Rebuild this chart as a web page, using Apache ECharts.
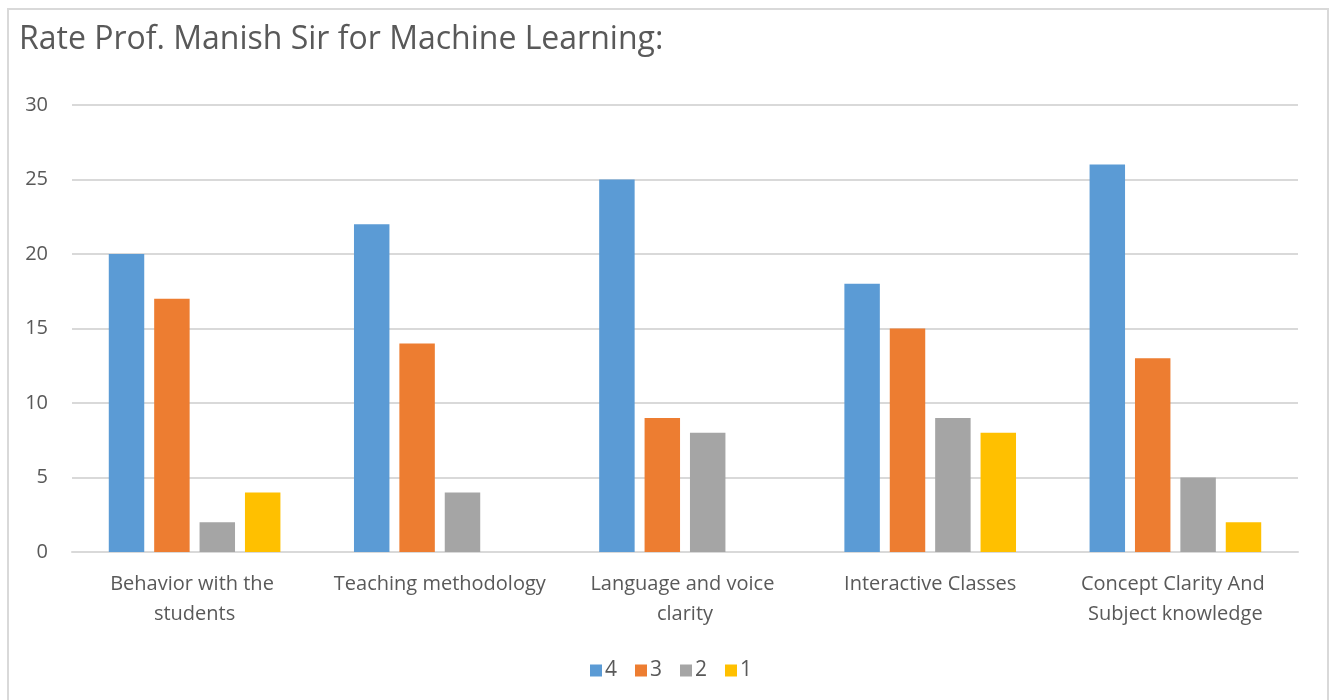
<!DOCTYPE html>
<html>
<head>
<meta charset="utf-8">
<script src="https://cdn.jsdelivr.net/npm/echarts@6/dist/echarts.min.js"></script>
<style>
  html, body { margin: 0; padding: 0; background: #fff; }
  #chart { width: 1332px; height: 700px; }
</style>
</head>
<body>
<div id="chart"></div>
<script>
// 类目与各评分人数
const categories = [
  'Behavior with the students',
  'Teaching methodology',
  'Language and voice clarity',
  'Interactive Classes',
  'Concept Clarity And Subject knowledge'
]
const seriesNames = ['4', '3', '2', '1']
const rating4 = [20, 22, 25, 18, 26]
const rating3 = [17, 14, 9, 15, 13]
const rating2 = [2, 4, 8, 9, 5]
const rating1 = [4, 0, 0, 8, 2]
const yTicks = [0, 5, 10, 15, 20, 25, 30]

const colors = ['#5b9bd5', '#ed7d31', '#a5a5a5', '#ffc000']
const textColor = '#595959'
const fontFamily = '"Open Sans", sans-serif'

const chart = echarts.init(document.getElementById('chart'))

const option = {
  animation: false,
  color: colors,
  title: {
    text: 'Rate Prof. Manish Sir for Machine Learning:',
    left: 14,
    top: 19,
    textStyle: { fontFamily, fontSize: 32, fontWeight: 'normal', color: textColor }
  },
  // 外框
  graphic: [{
    type: 'rect',
    shape: { x: 8, y: 9, width: 1320, height: 720 },
    style: { fill: 'none', stroke: '#d9d9d9', lineWidth: 2 },
    silent: true
  }],
  grid: { left: 72, right: 34, top: 105, bottom: 148 },
  legend: {
    data: seriesNames,
    left: 585,
    top: 655,
    itemWidth: 12,
    itemHeight: 12,
    itemGap: 18,
    icon: 'rect',
    textStyle: { fontFamily, fontSize: 21, color: textColor, padding: [0, 0, 0, -2] }
  },
  xAxis: {
    type: 'category',
    data: categories,
    axisTick: { show: false },
    axisLine: { lineStyle: { color: '#d9d9d9', width: 2 } },
    axisLabel: {
      fontFamily, fontSize: 20, color: textColor,
      margin: 17, lineHeight: 30,
      width: 225, overflow: 'break', interval: 0
    }
  },
  yAxis: {
    type: 'value',
    min: yTicks[0],
    max: yTicks[yTicks.length - 1],
    interval: 5,
    axisLine: { show: false },
    axisTick: { show: false },
    axisLabel: { fontFamily, fontSize: 20, color: textColor, margin: 24 },
    splitLine: { lineStyle: { color: '#d9d9d9', width: 2 } }
  },
  series: [rating4, rating3, rating2, rating1].map((d, i) => ({
    name: seriesNames[i],
    type: 'bar',
    data: d,
    barGap: '28%',
    barCategoryGap: '30%'
  }))
}
chart.setOption(option)
</script>
</body>
</html>
